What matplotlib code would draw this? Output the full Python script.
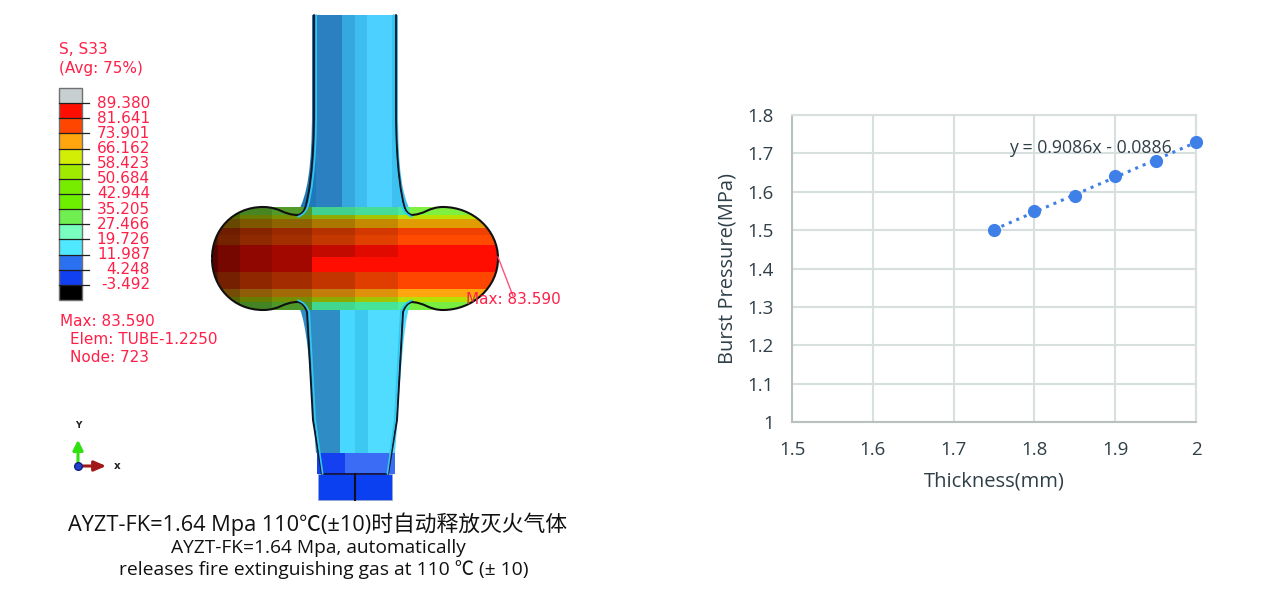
import numpy as np
import matplotlib
matplotlib.use("Agg")
import matplotlib.pyplot as plt
from matplotlib.path import Path
from matplotlib.patches import PathPatch, Rectangle

W, H = 1261, 594
RED = "#ff2048"
TEXT = "#2f3f48"
RED_SIZE = 11

# legend of the stress plot
contour_levels = ["89.380", "81.641", "73.901", "66.162", "58.423", "50.684", "42.944",
                  "35.205", "27.466", "19.726", "11.987", "4.248", "-3.492"]
contour_colors = ["#c8cfd0", "#ff0d00", "#ff4600", "#ffa50d", "#d2ee05", "#a0ea00", "#78ec00",
                  "#6cf000", "#70f050", "#78ffc0", "#50e8ff", "#2a70f0", "#1040f0", "#000000"]

# burst pressure data
thickness = [1.75, 1.80, 1.85, 1.90, 1.95, 2.00]
pressure = [1.50, 1.55, 1.59, 1.64, 1.68, 1.73]
trend_slope = 0.9086
trend_intercept = -0.0886
x_ticks = [1.5, 1.6, 1.7, 1.8, 1.9, 2.0]
x_labels = ["1.5", "1.6", "1.7", "1.8", "1.9", "2"]
y_ticks = [1.0, 1.1, 1.2, 1.3, 1.4, 1.5, 1.6, 1.7, 1.8]
y_labels = ["1", "1.1", "1.2", "1.3", "1.4", "1.5", "1.6", "1.7", "1.8"]

# bands of the bulged section of the tube, in pixels
bulge_x = [212, 218, 240, 272, 312, 355, 398, 410, 445, 470, 498]
bulge_shade = [0.34, 0.46, 0.56, 0.64, 0.76, 0.88, 1.0, 1.0, 1.0, 1.0]
bulge_y = [207, 215, 219, 228, 235, 245, 257, 272, 279, 289, 297, 302, 310]
bulge_bands = ["#80f040", "#bce000", "#e09c00", "#f04000", "#ff4a00", "#ff0d00",
               "#ff0d00", "#ff4600", "#ff4600", "#ffa50d", "#b8e000", "#78ee40"]

# blue columns of the upper and lower tube
upper_x = [312, 316, 342, 355, 367, 392, 398]
upper_colors = ["#1f78b8", "#2a80c0", "#35a8e0", "#40bdf0", "#4cd0ff", "#3fc0f0"]
lower_x = [300, 340, 355, 368, 410]
lower_colors = ["#2f8cc4", "#48d8ff", "#3cc8f0", "#50dcff"]

plt.rcParams["font.family"] = ["Open Sans", "Noto Sans CJK SC", "DejaVu Sans"]
fig = plt.figure(figsize=(W / 100, H / 100), dpi=100, facecolor="white")

# whole figure axes in pixel coordinates for the simulation picture
pic = fig.add_axes([0, 0, 1, 1])
pic.set_xlim(0, W)
pic.set_ylim(H, 0)
pic.axis("off")


def hex_rgb(c):
    return np.array(matplotlib.colors.to_rgb(c))


# upper tube
upper_path = Path(
    [(312, 15), (398, 15), (398, 110), (398, 170), (402, 195), (411, 212),
     (298, 212), (307, 195), (312, 170), (312, 110), (312, 15)],
    [Path.MOVETO, Path.LINETO, Path.LINETO, Path.CURVE4, Path.CURVE4, Path.CURVE4,
     Path.LINETO, Path.CURVE4, Path.CURVE4, Path.CURVE4, Path.CLOSEPOLY],
)
upper_rgb = np.array([[hex_rgb(c) for c in upper_colors]])
m = pic.pcolormesh(upper_x, [15, 215], upper_rgb, zorder=2)
m.set_clip_path(PathPatch(upper_path, transform=pic.transData))
# the flare takes the colour of the nearest column
m = pic.pcolormesh([296, 312], [15, 215], np.array([[hex_rgb(upper_colors[0])]]), zorder=2)
m.set_clip_path(PathPatch(upper_path, transform=pic.transData))
m = pic.pcolormesh([398, 414], [15, 215], np.array([[hex_rgb(upper_colors[-1])]]), zorder=2)
m.set_clip_path(PathPatch(upper_path, transform=pic.transData))

# lower tube
lower_path = Path(
    [(298, 305), (410, 305), (402, 325), (398, 420), (395, 453), (316, 453),
     (313, 420), (310, 325), (298, 305), (298, 305)],
    [Path.MOVETO, Path.LINETO, Path.CURVE4, Path.CURVE4, Path.CURVE4, Path.LINETO,
     Path.CURVE4, Path.CURVE4, Path.CURVE4, Path.CLOSEPOLY],
)
lower_rgb = np.array([[hex_rgb(c) for c in lower_colors]])
m = pic.pcolormesh(lower_x, [300, 455], lower_rgb, zorder=2)
m.set_clip_path(PathPatch(lower_path, transform=pic.transData))

# base of the tube
pic.add_patch(Rectangle((317, 453), 38, 21, fc="#1440f0", lw=0, zorder=3))
pic.add_patch(Rectangle((345, 453), 50, 21, fc="#3a6cf5", lw=0, zorder=3))
pic.add_patch(Rectangle((318, 474), 74, 26, fc="#0a40f0", ec="#9aa8c8", lw=0.5, zorder=3))
pic.plot([323, 387], [474, 474], color="#101040", lw=1.3, zorder=4)
pic.plot([355, 355], [474, 500], color="#101020", lw=1.5, zorder=4)

# bulged section, band colour darkened column by column
mesh = np.zeros((len(bulge_bands), len(bulge_shade), 3))
for i, band in enumerate(bulge_bands):
    for j, shade in enumerate(bulge_shade):
        mesh[i, j] = hex_rgb(band) * shade
# the middle of the section is bright red over the full width on the right
mesh[6, 4:] = hex_rgb("#ff0d00")
mesh[5, 5] = hex_rgb("#e00a00")
mesh[0, 4:7] = hex_rgb("#4ae8a0") * np.array(bulge_shade[4:7])[:, None] ** 0.4
mesh[-1, 4:7] = hex_rgb("#4af0a0") * np.array(bulge_shade[4:7])[:, None] ** 0.4
bulge_path = Path(
    [(263, 207), (443, 207), (473, 207), (498, 230), (498, 258), (498, 286), (473, 310),
     (443, 310), (263, 310), (233, 310), (212, 286), (212, 258), (212, 230), (233, 207),
     (263, 207)],
    [Path.MOVETO, Path.LINETO, Path.CURVE4, Path.CURVE4, Path.CURVE4, Path.CURVE4, Path.CURVE4,
     Path.CURVE4, Path.LINETO, Path.CURVE4, Path.CURVE4, Path.CURVE4, Path.CURVE4, Path.CURVE4,
     Path.CURVE4],
)
m = pic.pcolormesh(bulge_x, bulge_y, mesh, zorder=3)
m.set_clip_path(PathPatch(bulge_path, transform=pic.transData))

# outline of the section, with the notches next to the tube
for sy in (1, -1):
    cy = 258.5
    f = lambda y: cy + sy * (y - cy)
    left = Path(
        [(298, f(215)), (283, f(215)), (280, f(207)), (263, f(207)),
         (233, f(207)), (212, f(230)), (212, 258.5)],
        [Path.MOVETO] + [Path.CURVE4] * 6,
    )
    right = Path(
        [(410, f(215)), (425, f(215)), (428, f(207)), (443, f(207)),
         (473, f(207)), (498, f(230)), (498, 258.5)],
        [Path.MOVETO] + [Path.CURVE4] * 6,
    )
    for p in (left, right):
        pic.add_patch(PathPatch(p, fc="none", ec="#101010", lw=1.5, zorder=5))

# double edge lines of the wall
wall = dict(fc="none", zorder=5, capstyle="round")
for ec, lw, dx in (("#101828", 1.4, 0), ("#30c8f0", 1.2, 2.2)):
    for sx, x0 in ((1, 0), (-1, 710)):
        top = Path(
            [(x0 + sx * (314 + dx), 15), (x0 + sx * (314 + dx), 110),
             (x0 + sx * (314 + dx), 170), (x0 + sx * (308 + dx), 198), (x0 + sx * (306 + dx), 205),
             (x0 + sx * (304 + dx), 214), (x0 + sx * 298, 215 + dx * 0.8)],
            [Path.MOVETO, Path.LINETO] + [Path.CURVE4] * 3 + [Path.CURVE3] * 2,
        )
        bottom = Path(
            [(x0 + sx * 298, 302 - dx * 0.8), (x0 + sx * (304 + dx), 303),
             (x0 + sx * (307 + dx), 312), (x0 + sx * (313 + dx), 420), (x0 + sx * (322 + dx * 0.3), 474)],
            [Path.MOVETO, Path.CURVE3, Path.CURVE3, Path.LINETO, Path.LINETO],
        )
        pic.add_patch(PathPatch(top, ec=ec, lw=lw, **wall))
        pic.add_patch(PathPatch(bottom, ec=ec, lw=lw, **wall))

# colour legend
bar_top = 88
bar_step = (300 - 88) / len(contour_colors)
for i, c in enumerate(contour_colors):
    pic.add_patch(Rectangle((59, bar_top + i * bar_step), 23, bar_step, fc=c, ec="none", zorder=2))
pic.add_patch(Rectangle((59, 88), 23, 212, fc="none", ec="#707070", lw=1, zorder=3))
for i, label in enumerate(contour_levels):
    y = bar_top + (i + 1) * bar_step
    pic.plot([59, 89], [y, y], color="#202020", lw=0.9, zorder=3)
    pic.text(150, y, label, color=RED, fontsize=RED_SIZE, ha="right", va="center",
             family="DejaVu Sans")

pic.text(59, 50, "S, S33", color=RED, fontsize=RED_SIZE, va="center", family="DejaVu Sans")
pic.text(59, 69, "(Avg: 75%)", color=RED, fontsize=RED_SIZE, va="center", family="DejaVu Sans")
pic.text(60, 321, "Max: 83.590", color=RED, fontsize=RED_SIZE, va="center", family="DejaVu Sans")
pic.text(70, 340, "Elem: TUBE-1.2250", color=RED, fontsize=RED_SIZE, va="center", family="DejaVu Sans")
pic.text(70, 358, "Node: 723", color=RED, fontsize=RED_SIZE, va="center", family="DejaVu Sans")

# maximum marker
pic.plot([498, 513], [257, 296], color="#ff5080", lw=1, zorder=6)
pic.text(466, 300, "Max: 83.590", color=RED, fontsize=RED_SIZE, va="center", zorder=7,
         family="DejaVu Sans")

# axis triad
pic.annotate("", xy=(78, 437), xytext=(78, 466),
             arrowprops=dict(arrowstyle="-|>,head_width=0.3,head_length=0.6", color="#30e010", lw=2.2))
pic.annotate("", xy=(109, 466), xytext=(78, 466),
             arrowprops=dict(arrowstyle="-|>,head_width=0.3,head_length=0.7", color="#a01818", lw=2.2))
pic.plot([78], [466], "o", color="#2040d0", ms=5.5, mec="#102080", zorder=5)
pic.text(78, 425, "Y", fontsize=6.5, fontweight="bold", ha="center", va="center", color="#222222",
         family="DejaVu Sans")
pic.text(117, 466, "x", fontsize=7.5, fontweight="bold", ha="center", va="center", color="#222222",
         family="DejaVu Sans")

# captions
pic.text(318, 524, "AYZT-FK=1.64 Mpa 110℃(±10)时自动释放灭火气体", fontsize=15.7, ha="center",
         va="center", color="#111111")
pic.text(318, 548, "AYZT-FK=1.64 Mpa, automatically", fontsize=13.8, ha="center", va="center",
         color="#111111")
pic.text(324, 570, "releases fire extinguishing gas at 110 ℃ (± 10)", fontsize=13.9, ha="center",
         va="center", color="#111111")

# burst pressure chart
left, right, top, bottom = 792, 1196, 115, 422
ax = fig.add_axes([left / W, 1 - bottom / H, (right - left) / W, (bottom - top) / H])
ax.set_xlim(1.5, 2.0)
ax.set_ylim(1.0, 1.8)
ax.set_xticks(x_ticks)
ax.set_xticklabels(x_labels)
ax.set_yticks(y_ticks)
ax.set_yticklabels(y_labels)
ax.grid(True, color="#d8dfdf", lw=1.5)
ax.set_axisbelow(True)
ax.tick_params(length=0, labelsize=13.5, labelcolor=TEXT)
ax.tick_params(axis="x", pad=14)
ax.tick_params(axis="y", pad=13)
for s in ax.spines.values():
    s.set_color("#d8dfdf")
    s.set_linewidth(1.5)
ax.spines["left"].set_color("#b8c0c0")
ax.spines["bottom"].set_color("#b8c0c0")
ax.set_xlabel("Thickness(mm)", fontsize=14.5, color=TEXT, labelpad=9)
ax.set_ylabel("Burst Pressure(MPa)", fontsize=14.4, color=TEXT, labelpad=7)

fit_x = np.array([thickness[0], thickness[-1]])
ax.plot(fit_x, trend_slope * fit_x + trend_intercept, ":", color="#3f80e8", lw=2.2, zorder=3)
ax.plot(thickness, pressure, "o", color="#3f80e8", ms=9.5, mew=0, zorder=4, clip_on=False)
ax.text(1.768, 1.715, "y = 0.9086x - 0.0886", fontsize=12.7, color=TEXT, va="center", zorder=5)

fig.savefig("out.png", dpi=100)
